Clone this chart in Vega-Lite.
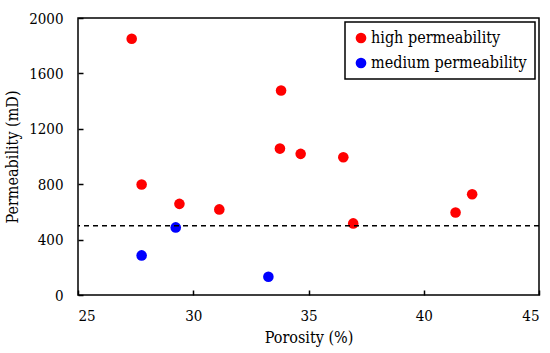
{
  "$schema": "https://vega.github.io/schema/vega-lite/v6.json",
  "width": 461,
  "height": 277,
  "autosize": "none",
  "padding": {"left": 78, "top": 18, "right": 11, "bottom": 58},
  "background": "white",
  "config": {
    "font": "DejaVu Serif Condensed",
    "view": {"stroke": "black", "strokeWidth": 1.5},
    "legend": {"strokeColor": "black", "strokeWidth": 1.5},
    "axis": {
      "grid": false,
      "domain": false,
      "ticks": true,
      "zindex": 1,
      "offset": -5,
      "tickColor": "black",
      "tickWidth": 1.5,
      "tickSize": 5,
      "labelColor": "black",
      "labelFont": "DejaVu Serif Condensed",
      "labelFontSize": 15,
      "titleFont": "DejaVu Serif Condensed",
      "titleFontSize": 16,
      "titleFontWeight": "normal",
      "titleColor": "black"
    }
  },
  "layer": [
    {
      "data": {
        "values": [
          {"porosity": 27.33, "permeability": 1850, "class": "high permeability"},
          {"porosity": 27.76, "permeability": 798, "class": "high permeability"},
          {"porosity": 29.4, "permeability": 658, "class": "high permeability"},
          {"porosity": 31.13, "permeability": 618, "class": "high permeability"},
          {"porosity": 33.81, "permeability": 1477, "class": "high permeability"},
          {"porosity": 33.76, "permeability": 1057, "class": "high permeability"},
          {"porosity": 34.66, "permeability": 1019, "class": "high permeability"},
          {"porosity": 36.51, "permeability": 995, "class": "high permeability"},
          {"porosity": 36.94, "permeability": 517, "class": "high permeability"},
          {"porosity": 41.38, "permeability": 596, "class": "high permeability"},
          {"porosity": 42.1, "permeability": 728, "class": "high permeability"},
          {"porosity": 29.24, "permeability": 488, "class": "medium permeability"},
          {"porosity": 27.76, "permeability": 286, "class": "medium permeability"},
          {"porosity": 33.26, "permeability": 132, "class": "medium permeability"}
        ]
      },
      "mark": {"type": "point", "filled": true, "shape": "circle", "size": 112, "opacity": 1},
      "encoding": {
        "x": {
          "field": "porosity", "type": "quantitative", "title": "Porosity (%)",
          "scale": {"domain": [25, 45], "nice": false, "zero": false},
          "axis": {"values": [25, 30, 35, 40, 45], "format": "d", "labelPadding": 13, "titlePadding": 6}
        },
        "y": {
          "field": "permeability", "type": "quantitative", "title": "Permeability (mD)",
          "scale": {"domain": [0, 2000], "nice": false},
          "axis": {"values": [0, 400, 800, 1200, 1600, 2000], "format": "d", "labelPadding": 15, "titlePadding": 8}
        },
        "color": {
          "field": "class", "type": "nominal",
          "scale": {"domain": ["high permeability", "medium permeability"], "range": ["#ff0000", "#0000ff"]},
          "legend": {
            "title": null,
            "orient": "top-right",
            "offset": 4,
            "fillColor": "white",
            "padding": 8,
            "symbolType": "circle",
            "symbolSize": 115,
            "symbolOpacity": 1,
            "symbolStrokeWidth": 0,
            "labelFont": "DejaVu Serif Condensed",
            "labelFontSize": 16,
            "labelLimit": 400,
            "labelColor": "black",
            "labelOffset": 2,
            "rowPadding": 9
          }
        }
      }
    },
    {
      "data": {"values": [{"threshold": 500}]},
      "mark": {"type": "rule", "color": "black", "strokeWidth": 1.5, "strokeDash": [5, 4]},
      "encoding": {"y": {"field": "threshold", "type": "quantitative"}}
    }
  ]
}
